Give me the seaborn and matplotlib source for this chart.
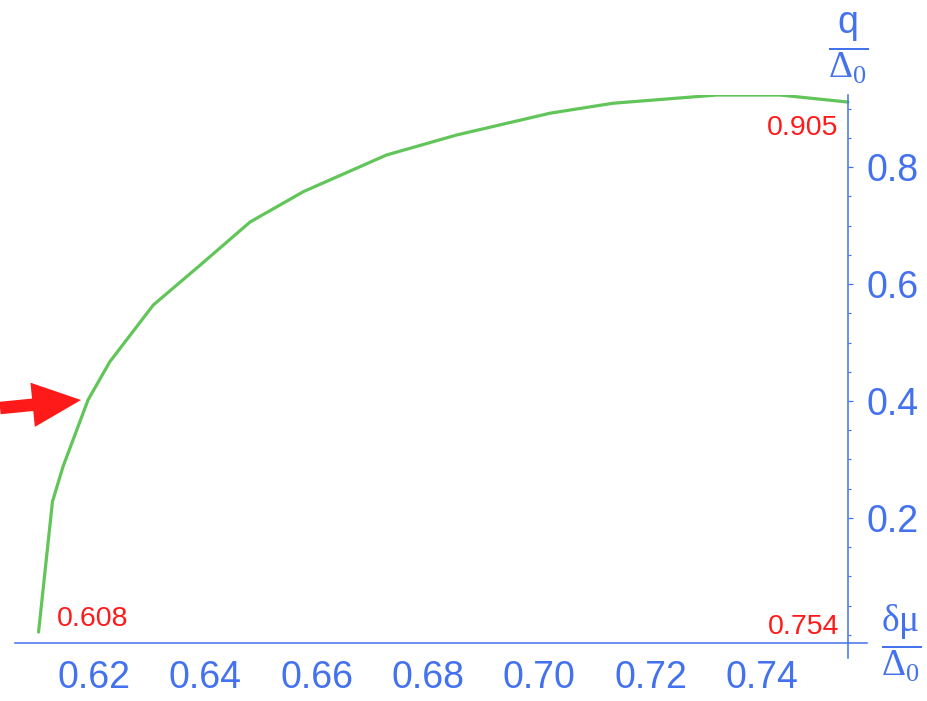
import matplotlib
matplotlib.use("Agg")
import matplotlib.pyplot as plt
import matplotlib.transforms as mtransforms
import seaborn as sns
import pandas as pd
from matplotlib.ticker import MultipleLocator, FixedLocator

# ---- data ----
dmu = [0.6086, 0.6111, 0.6130, 0.6175, 0.6214, 0.6292, 0.6376, 0.6466,
       0.6562, 0.6711, 0.6837, 0.7005, 0.7118, 0.7304, 0.7418, 0.7540]
q = [0.005, 0.228, 0.288, 0.402, 0.467, 0.564, 0.632, 0.706,
     0.758, 0.8205, 0.8547, 0.892, 0.909, 0.923, 0.923, 0.911]
x_ticks = [0.62, 0.64, 0.66, 0.68, 0.70, 0.72, 0.74]
y_ticks = [0.2, 0.4, 0.6, 0.8]
ann_start = "0.608"
ann_end_x = "0.754"
ann_end_y = "0.905"

sns.set_style("white")
plt.rcParams['font.family'] = ['Liberation Sans', 'DejaVu Sans']
plt.rcParams['mathtext.fontset'] = 'custom'
plt.rcParams['mathtext.rm'] = 'Liberation Serif'
plt.rcParams['mathtext.it'] = 'Liberation Serif:italic'
plt.rcParams['mathtext.sf'] = 'Liberation Sans'

BLUE = '#4472EE'
GREEN = '#62C55A'
RED = '#FF1A1A'

fig = plt.figure(figsize=(9.27, 7.01), dpi=100)
ax = fig.add_axes([15/927, 1-658/701, 852/927, 563/701])

df = pd.DataFrame({'dmu': dmu, 'q': q})
sns.lineplot(data=df, x='dmu', y='q', sort=False, estimator=None,
             color=GREEN, linewidth=2.3, ax=ax)

ax.set_xlim(0.60437, 0.75742)
ax.set_ylim(-0.03932, 0.92308)
ax.set_xlabel('')
ax.set_ylabel('')

x_cross = 0.754
y_cross = -0.0137
for s in ['left', 'top']:
    ax.spines[s].set_visible(False)
ax.spines['bottom'].set_position(('data', y_cross))
ax.spines['right'].set_position(('data', x_cross))
for s in ['bottom', 'right']:
    ax.spines[s].set_color(BLUE)
    ax.spines[s].set_linewidth(1.1)

ax.yaxis.tick_right()
ax.xaxis.set_major_locator(FixedLocator(x_ticks))
ax.xaxis.set_minor_locator(MultipleLocator(0.005))
ax.yaxis.set_major_locator(FixedLocator(y_ticks))
ax.yaxis.set_minor_locator(MultipleLocator(0.05))
ax.set_xticklabels([f"{v:.2f}" for v in x_ticks])
ax.set_yticklabels([f"{v:.1f}" for v in y_ticks])
ax.tick_params(axis='x', which='major', direction='in', length=3.6, width=0.9,
               color=BLUE, labelcolor=BLUE, labelsize=27, pad=12)
ax.tick_params(axis='x', which='minor', direction='in', length=2.2, width=0.8, color=BLUE)
ax.tick_params(axis='y', which='major', direction='out', length=3.6, width=0.9,
               color=BLUE, labelcolor=BLUE, labelsize=27, pad=10)
ax.tick_params(axis='y', which='minor', direction='out', length=2.2, width=0.8, color=BLUE)

# shift x tick labels slightly left, as in the reference
offset = mtransforms.ScaledTranslation(-8/100, 0, fig.dpi_scale_trans)
for lbl in ax.get_xticklabels():
    lbl.set_transform(lbl.get_transform() + offset)

# annotations
ax.text(0.6119, y_cross + 0.029, ann_start, color=RED, fontsize=20.5,
        ha='left', va='baseline')
ax.text(x_cross - 0.0015, y_cross + 0.016, ann_end_x, color=RED, fontsize=20.5,
        ha='right', va='baseline')
ax.text(x_cross - 0.0017, 0.855, ann_end_y, color=RED, fontsize=20.5,
        ha='right', va='baseline')

# axis labels
ax.text(x_cross, 1.0034, r'$\dfrac{\mathsf{q}}{\Delta_0}$', color=BLUE, fontsize=27,
        ha='center', va='center', clip_on=False)
ax.text(0.7635, y_cross, r'$\dfrac{\mathrm{\delta\mu}}{\Delta_0}$', color=BLUE, fontsize=27,
        ha='center', va='center', clip_on=False)

# red arrow
ax.annotate('', xy=(0.61623, 0.4017), xytext=(0.60168, 0.388),
            annotation_clip=False,
            arrowprops=dict(arrowstyle='simple,head_length=3.5,head_width=3.2,tail_width=0.9',
                            mutation_scale=10, color=RED, shrinkA=0, shrinkB=0, lw=0))

fig.savefig('out.png', dpi=100)
